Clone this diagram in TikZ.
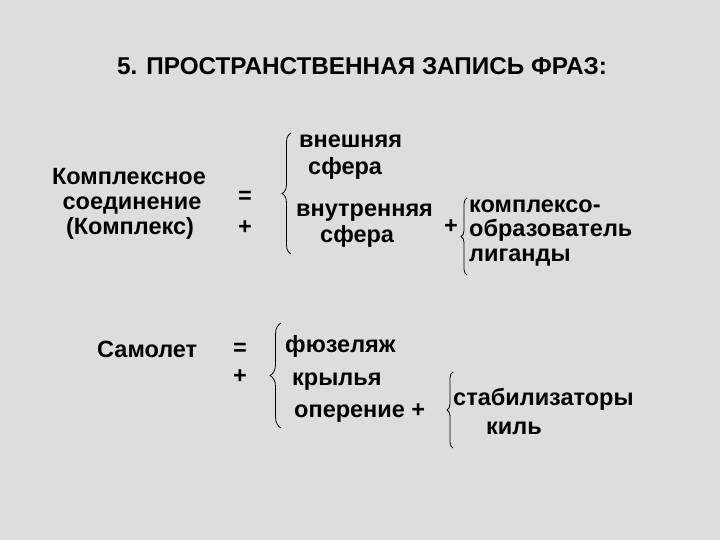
\documentclass[tikz,border=0pt]{standalone}
\usepackage{fontspec}
\setmainfont{Liberation Sans}
\usetikzlibrary{decorations.pathreplacing}
\definecolor{bg}{RGB}{221,221,221}
\tikzset{
  txt/.style={inner sep=0pt, font=\fontsize{23.5bp}{27bp}\selectfont\bfseries},
  ttl/.style={inner sep=0pt, font=\fontsize{24.3bp}{28bp}\selectfont\bfseries},
  brc/.style={draw=black, line width=0.8pt, decorate, decoration={brace, amplitude=#1}},
}
\begin{document}
\begin{tikzpicture}[x=1bp, y=-1bp]
\fill[bg] (0,0) rectangle (720,540);
\useasboundingbox (0,0) rectangle (720,540);

\node[ttl, anchor=base] (title) at (362,75) {5. ПРОСТРАНСТВЕННАЯ ЗАПИСЬ ФРАЗ:};

% left column
\node[txt, anchor=base] (k1) at (129,185) {Комплексное};
\node[txt, anchor=base] (k2) at (132,210) {соединение};
\node[txt, anchor=base] (k3) at (130,235) {(Комплекс)};
\node[txt] (eq1) at (245,197) {=};
\node[txt] (pl1) at (245,228) {+};

\node[txt, anchor=base west] (vn1) at (299,148) {внешняя};
\node[txt, anchor=base west] (sf1) at (308,175) {сфера};
\node[txt, anchor=base west] (vt1) at (296,217) {внутренняя};
\node[txt, anchor=base west] (sf2) at (320,243) {сфера};
\node[txt] (pl2) at (451,227) {+};
\node[txt, anchor=base west] (ko1) at (469,213) {комплексо-};
\node[txt, anchor=base west] (ko2) at (469,237) {образователь};
\node[txt, anchor=base west] (lig) at (469,262) {лиганды};

\coordinate (b1t) at (291,133);
\coordinate (b1b) at (291,254);
\draw[brc=9bp] (b1b) -- (b1t);
\coordinate (b2t) at (467,198);
\coordinate (b2b) at (467,275);
\draw[brc=6bp] (b2b) -- (b2t);

% airplane
\node[txt, anchor=base west] (sam) at (97,357) {Самолет};
\node[txt] (eq2) at (240,349) {=};
\node[txt] (pl3) at (240,377) {+};
\node[txt, anchor=base west] (fu) at (285,352) {фюзеляж};
\node[txt, anchor=base west] (kr) at (292,385) {крылья};
\node[txt, anchor=base west] (op) at (294,417) {оперение +};
\node[txt, anchor=base west] (st) at (453,405) {стабилизаторы};
\node[txt, anchor=base west] (ki) at (486,434) {киль};

\coordinate (b3t) at (281,323);
\coordinate (b3b) at (281,428);
\draw[brc=11bp] (b3b) -- (b3t);
\coordinate (b4t) at (453,372);
\coordinate (b4b) at (453,448);
\draw[brc=6bp] (b4b) -- (b4t);
\end{tikzpicture}
\end{document}
